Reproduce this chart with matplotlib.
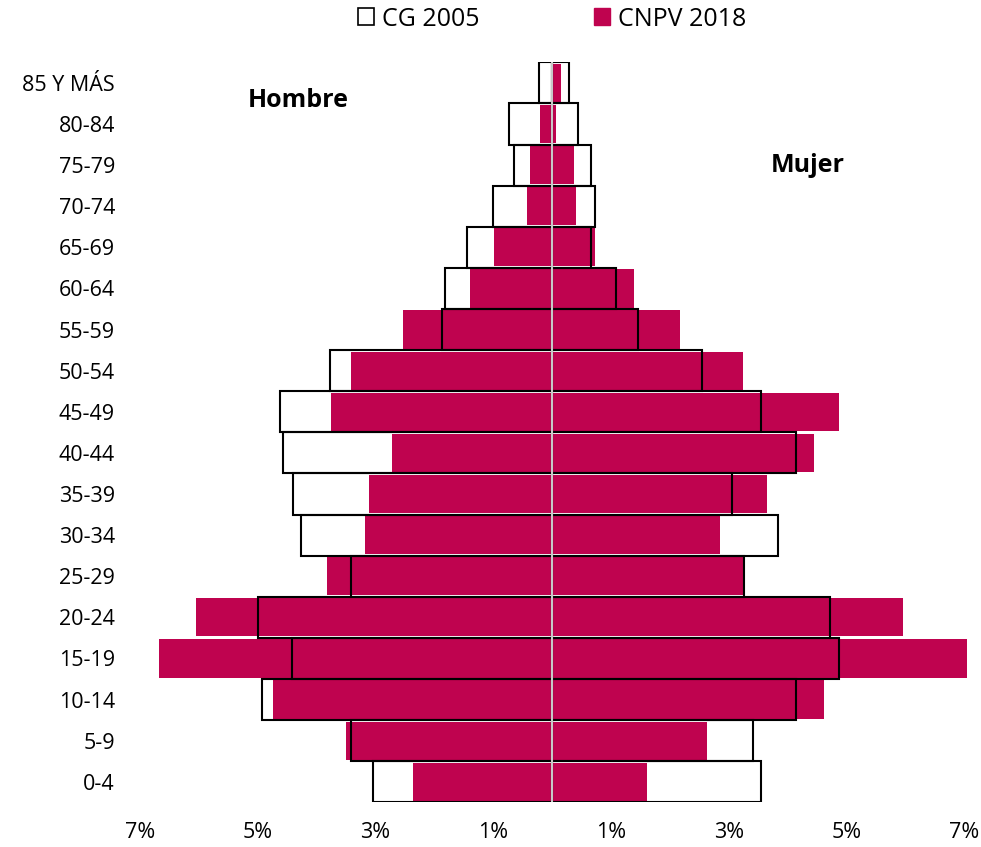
import matplotlib
matplotlib.use("Agg")
import matplotlib.pyplot as plt
from matplotlib.patches import Patch
import numpy as np

plt.rcParams['font.family'] = ['Open Sans', 'DejaVu Sans']

categories = ['0-4', '5-9', '10-14', '15-19', '20-24', '25-29', '30-34', '35-39',
              '40-44', '45-49', '50-54', '55-59', '60-64', '65-69', '70-74',
              '75-79', '80-84', '85 Y MÁS']

hombre_2005 = [3.04, 3.41, 4.93, 4.42, 5.00, 3.41, 4.27, 4.41, 4.57, 4.63,
               3.77, 1.88, 1.82, 1.44, 1.01, 0.65, 0.73, 0.22]
hombre_2018 = [2.36, 3.50, 4.74, 6.67, 6.05, 3.83, 3.18, 3.11, 2.72, 3.76,
               3.41, 2.53, 1.39, 0.99, 0.43, 0.37, 0.21, 0.03]
mujer_2005 = [3.55, 3.40, 4.13, 4.86, 4.71, 3.26, 3.84, 3.05, 4.13, 3.55,
              2.54, 1.45, 1.09, 0.66, 0.73, 0.65, 0.43, 0.29]
mujer_2018 = [1.61, 2.62, 4.62, 7.04, 5.95, 3.24, 2.85, 3.64, 4.45, 4.87,
              3.24, 2.17, 1.39, 0.72, 0.40, 0.37, 0.07, 0.14]

x_ticks = [-7, -5, -3, -1, 1, 3, 5, 7]
x_tick_labels = ['7%', '5%', '3%', '1%', '1%', '3%', '5%', '7%']

crimson = '#BF034F'

fig = plt.figure(figsize=(9.81, 8.47), dpi=100)
ax = fig.add_axes([140/981, 44.7/847, 827.5/981, 740/847])

y = np.arange(len(categories))

ax.barh(y, -np.array(hombre_2018), height=0.93, color=crimson, zorder=1)
ax.barh(y, mujer_2018, height=0.93, color=crimson, zorder=1)
ax.barh(y, -np.array(hombre_2005), height=1.0, facecolor='none',
        edgecolor='black', linewidth=1.5, zorder=2)
ax.barh(y, mujer_2005, height=1.0, facecolor='none',
        edgecolor='black', linewidth=1.5, zorder=2)

ax.axvline(0, color='#C8C8C8', linewidth=1.5, zorder=3)

ax.set_xlim(-7, 7.05)
ax.set_ylim(-0.5, 17.5)
ax.set_yticks(y)
ax.set_yticklabels(categories, fontsize=15.5)
ax.set_xticks(x_ticks)
ax.set_xticklabels(x_tick_labels, fontsize=15.5)
ax.tick_params(axis='y', length=0, pad=18)
ax.tick_params(axis='x', length=0, pad=14)
for s in ax.spines.values():
    s.set_visible(False)

ax.text(-4.32, 16.56, 'Hombre', fontsize=18, fontweight='bold',
        ha='center', va='center')
ax.text(4.34, 15.0, 'Mujer', fontsize=18, fontweight='bold',
        ha='center', va='center')

handles = [Patch(facecolor='white', edgecolor='black', linewidth=1.2, label='CG 2005'),
           Patch(facecolor=crimson, edgecolor=crimson, label='CNPV 2018')]
fig.legend(handles=handles, loc='center', bbox_to_anchor=(552/981, 1 - 19/847),
           ncol=2, frameon=False, fontsize=18, handlelength=0.65,
           handleheight=0.65, handletextpad=0.3, columnspacing=4.6)

fig.savefig('out.png', dpi=100)
